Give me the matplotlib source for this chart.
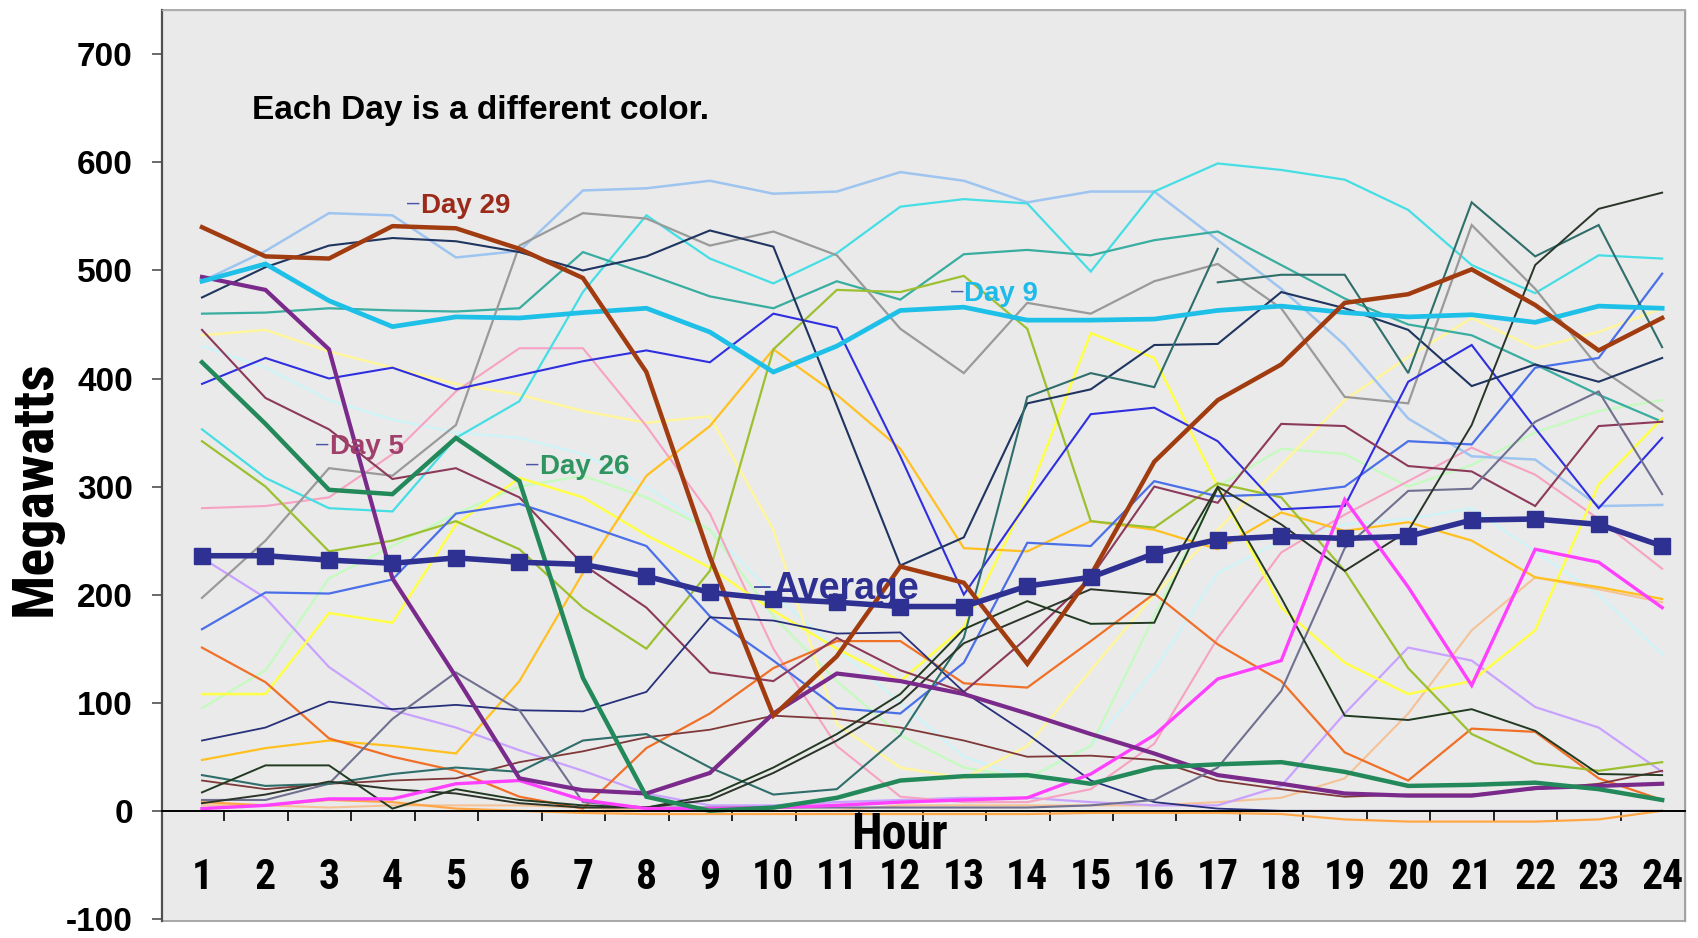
import numpy as np
import matplotlib
matplotlib.use('Agg')
import matplotlib.pyplot as plt
from matplotlib import font_manager
from matplotlib.font_manager import FontProperties

nan = np.nan
hours = list(range(1, 25))

# hourly load per day (MW)
day29 = [540, 513, 511, 541, 539, 520, 493, 406, 235, 88, 143, 226, 211, 136, 218, 323, 380, 413, 470, 478, 501, 468, 426, 456]
day9 = [490, 506, 472, 448, 457, 456, 461, 465, 443, 406, 430, 463, 466, 454, 454, 455, 463, 467, 461, 457, 459, 452, 467, 465]
day26 = [415, 358, 297, 293, 345, 305, 123, 13, 0, 3, 12, 28, 32, 33, 25, 40, 43, 45, 36, 23, 24, 26, 20, 10]
day5 = [445, 382, 353, 307, 317, 290, 228, 188, 128, 120, 160, 130, 110, 160, 216, 300, 285, 358, 356, 319, 314, 282, 356, 360]
purple = [494, 482, 427, 215, 124, 30, 19, 16, 35, 90, 127, 120, 108, 90, 71, 53, 33, 25, 16, 14, 14, 21, 23, 25]
lightblue = [490, 518, 553, 551, 512, 518, 574, 576, 583, 571, 573, 591, 583, 563, 573, 573, 528, 483, 431, 363, 328, 325, 282, 283]
cyan = [353, 308, 280, 277, 345, 379, 480, 551, 511, 488, 516, 559, 566, 562, 499, 573, 599, 593, 584, 556, 505, 479, 514, 511]
teal = [460, 461, 465, 463, 462, 465, 517, 497, 476, 465, 490, 473, 515, 519, 514, 528, 536, 505, 474, 450, 440, 413, 385, 360]
gray = [197, 250, 317, 310, 357, 523, 553, 548, 523, 536, 514, 446, 405, 470, 460, 490, 506, 465, 383, 377, 542, 483, 410, 370]
navy = [475, 503, 523, 530, 527, 517, 500, 513, 537, 522, 375, 227, 253, 377, 390, 431, 432, 480, 465, 445, 393, 413, 397, 419]
blue = [395, 419, 400, 410, 390, 403, 416, 426, 415, 460, 447, 328, 200, 285, 367, 373, 342, 279, 282, 397, 431, 354, 280, 345]
royal = [168, 202, 201, 214, 275, 284, 265, 245, 180, 139, 95, 90, 137, 248, 245, 305, 291, 293, 300, 342, 339, 410, 419, 497]
pink = [280, 282, 290, 330, 388, 428, 428, 356, 275, 150, 60, 13, 8, 8, 20, 62, 160, 239, 274, 305, 336, 311, 270, 224]
gold = [47, 58, 65, 60, 53, 120, 220, 310, 356, 427, 385, 335, 243, 240, 268, 260, 242, 276, 259, 267, 250, 216, 207, 196]
darkorange = [151, 119, 67, 50, 37, 13, 2, 58, 90, 132, 157, 157, 118, 114, 157, 201, 154, 120, 54, 28, 76, 73, 30, 10]
yellowgreen = [342, 300, 240, 250, 268, 242, 188, 150, 222, 427, 482, 480, 495, 446, 268, 262, 303, 290, 222, 132, 71, 44, 37, 45]
yellow = [108, 108, 183, 174, 265, 308, 290, 255, 225, 185, 150, 120, 170, 290, 442, 419, 300, 188, 137, 108, 120, 167, 302, 363]
paleyellow = [440, 445, 425, 410, 395, 385, 370, 359, 365, 260, 80, 40, 30, 60, 130, 200, 260, 320, 380, 420, 456, 428, 443, 465]
palegreen = [95, 130, 215, 245, 275, 300, 310, 290, 260, 180, 120, 70, 40, 30, 60, 180, 300, 335, 330, 300, 320, 350, 370, 380]
lightcyan = [430, 410, 380, 362, 350, 345, 330, 300, 260, 200, 150, 100, 50, 30, 60, 130, 220, 250, 265, 270, 280, 240, 200, 145]
lavender = [234, 197, 133, 93, 77, 56, 37, 16, 5, 5, 8, 10, 12, 12, 8, 5, 5, 23, 90, 151, 139, 96, 77, 36]
magenta = [2, 5, 11, 11, 25, 28, 10, 2, 2, 3, 5, 8, 10, 12, 34, 70, 122, 139, 288, 207, 116, 242, 230, 188]
darkgreen = [17, 42, 42, 2, 20, 10, 5, 3, 14, 40, 71, 108, 168, 194, 173, 174, 299, 197, 88, 84, 94, 74, 34, 33]
black = [7, 15, 27, 20, 16, 7, 3, 3, 10, 35, 65, 100, 155, 180, 205, 200, 300, 265, 222, 259, 357, 505, 557, 572]
darkteal_a = [33, 23, 25, 34, 40, 36, 65, 71, 40, 15, 20, 70, 160, 383, 405, 392, 520, nan, nan, nan, nan, nan, nan, nan]
darkteal_b = [nan] * 16 + [489, 496, 496, 405, 563, 513, 542, 429]
peach = [5, 5, 3, 5, 5, 5, 3, 0, 0, 0, 0, 5, 5, 5, 5, 5, 8, 12, 30, 90, 167, 216, 205, 193]
orange2 = [8, 5, 10, 8, 2, 0, -2, -3, -3, -3, -3, -3, -3, -3, -2, -2, -2, -3, -8, -10, -10, -10, -8, 0]
navythin = [65, 77, 101, 94, 98, 93, 92, 110, 179, 176, 164, 165, 110, 71, 28, 8, 2, 0, 0, 0, 0, 0, 0, 0]
slate = [10, 10, 25, 85, 128, 93, 8, 3, 3, 3, 3, 3, 3, 3, 5, 10, 40, 111, 243, 296, 298, 360, 388, 293]
brownthin = [28, 20, 25, 28, 30, 45, 55, 68, 75, 88, 85, 77, 65, 50, 51, 47, 28, 20, 13, 15, 15, 20, 25, 37]
average = [236, 236, 232, 229, 234, 230, 228, 217, 202, 196, 193, 189, 189, 208, 216, 238, 251, 254, 252, 254, 269, 270, 265, 245]

yticks = [-100, 0, 100, 200, 300, 400, 500, 600, 700]

plt.rcParams['font.family'] = ['Liberation Sans', 'DejaVu Sans']


def condensed_bold():
    # look for a bold narrow face; fall back to a smaller regular bold
    fonts = font_manager.fontManager.ttflist
    for fam in ['Liberation Sans Narrow', 'Roboto Condensed', 'Open Sans Condensed',
                'DejaVu Sans Condensed', 'DejaVu Sans']:
        for f in fonts:
            w = f.weight if isinstance(f.weight, int) else (700 if 'bold' in str(f.weight) else 400)
            if f.name == fam and w >= 600 and 'condensed' in str(f.stretch) or \
               f.name == fam and w >= 600 and fam.endswith(('Narrow', 'Condensed')):
                return FontProperties(fname=f.fname), 1.0
    return FontProperties(family='Liberation Sans', weight='bold'), 0.82


narrow_fp, nscale = condensed_bold()


def nfp(size):
    fp = narrow_fp.copy()
    fp.set_size(size * nscale)
    return fp


fig = plt.figure(figsize=(16.99, 9.38), dpi=100)
ax = fig.add_axes([162 / 1699, 17 / 938, 1523 / 1699, 911 / 938])
ax.set_facecolor('#EAEAEA')
ax.patch.set_edgecolor('#9a9a9a')
ax.patch.set_linewidth(1.2)

# (values, colour, width) - pale lines first so the strong ones sit on top
lines = [
    (lightcyan, '#CDF4F8', 1.6), (palegreen, '#C4FBBE', 1.6), (paleyellow, '#FFF59C', 1.8),
    (peach, '#F5C296', 1.5), (orange2, '#FFA646', 1.6), (lavender, '#C9A2FF', 1.6),
    (pink, '#F7A2C2', 1.5), (lightblue, '#9EC4F0', 1.8), (cyan, '#45DEE4', 1.6),
    (teal, '#38ADA0', 1.6), (gray, '#9A9A9A', 1.6), (yellow, '#FFFF48', 1.8),
    (gold, '#FFC020', 1.6), (darkorange, '#F07028', 1.6), (yellowgreen, '#9CC030', 1.6),
    (royal, '#4A6FE8', 1.6), (blue, '#2F2FE0', 1.5), (navy, '#1F3560', 1.5),
    (day5, '#8C3A5A', 1.5), (brownthin, '#7E3838', 1.3), (navythin, '#27307A', 1.3),
    (slate, '#707090', 1.5), (darkteal_a, '#2F6E6A', 1.5), (darkteal_b, '#2F6E6A', 1.5),
    (darkgreen, '#223A22', 1.4), (black, '#2A3428', 1.4), (magenta, '#FF40FF', 2.4),
    (purple, '#7A2A8A', 3.0), (day26, '#23895A', 3.2), (day9, '#1EC0E8', 3.4),
    (day29, '#A03C10', 3.2),
]
for vals, col, lw in lines:
    ax.plot(hours, vals, color=col, lw=lw, solid_joinstyle='miter')

ax.plot(hours, average, color='#2E3192', lw=4.0, marker='s', markersize=12,
        markeredgecolor='#2E3192', zorder=5)

ax.set_xlim(0.37, 24.36)
ax.set_ylim(-102, 741)

# category axis crosses at zero
ax.spines['bottom'].set_position(('data', 0))
ax.spines['bottom'].set_color('black')
ax.spines['bottom'].set_linewidth(1.4)
ax.spines['left'].set_color('#505050')
ax.spines['left'].set_linewidth(1.6)
ax.spines['top'].set_color('#b0b0b0')
ax.spines['top'].set_linewidth(1.0)
ax.spines['right'].set_color('#a0a0a0')
ax.spines['right'].set_linewidth(1.0)

ax.set_xticks(hours)
ax.set_xticklabels([str(h) for h in hours], fontproperties=nfp(30))
ax.set_xticks([h + 0.35 for h in hours[:-1]], minor=True)
ax.tick_params(axis='x', which='major', length=0, pad=33)
ax.tick_params(axis='x', which='minor', direction='out', length=7, width=1.2, color='black')

ax.set_yticks(yticks)
ax.set_yticklabels([str(v) for v in yticks], fontweight='bold', fontsize=24)
ax.tick_params(axis='y', direction='out', length=7, width=1.2, color='#505050', pad=14)

fig.text(35 / 1699, 0.48, 'Megawatts', rotation=90, ha='center', va='center',
         fontproperties=nfp(42))
ax.text(11.99, -35, 'Hour', ha='center', va='baseline', fontproperties=nfp(36))
ax.text(1.785, 640, 'Each Day is a different color.', ha='left', va='baseline',
        fontweight='bold', fontsize=24)

dash_col = '#4A55A8'
tags = [
    (4.45, 553, 'Day 29', '#9B2A1A', 20),
    (13.01, 472, 'Day 9', '#1EBBEA', 20),
    (3.01, 330, 'Day 5', '#A0406A', 20),
    (6.32, 312, 'Day 26', '#2E9460', 20),
    (9.98, 196, 'Average', '#2E3192', 27),
]
for x, y, txt, col, fs in tags:
    ax.text(x - 0.02, y + 4, '–', ha='right', va='baseline', color=dash_col,
            fontsize=fs * 0.8)
    ax.text(x, y, txt, ha='left', va='baseline', color=col, fontweight='bold', fontsize=fs)

plt.savefig('out.png', dpi=100)
